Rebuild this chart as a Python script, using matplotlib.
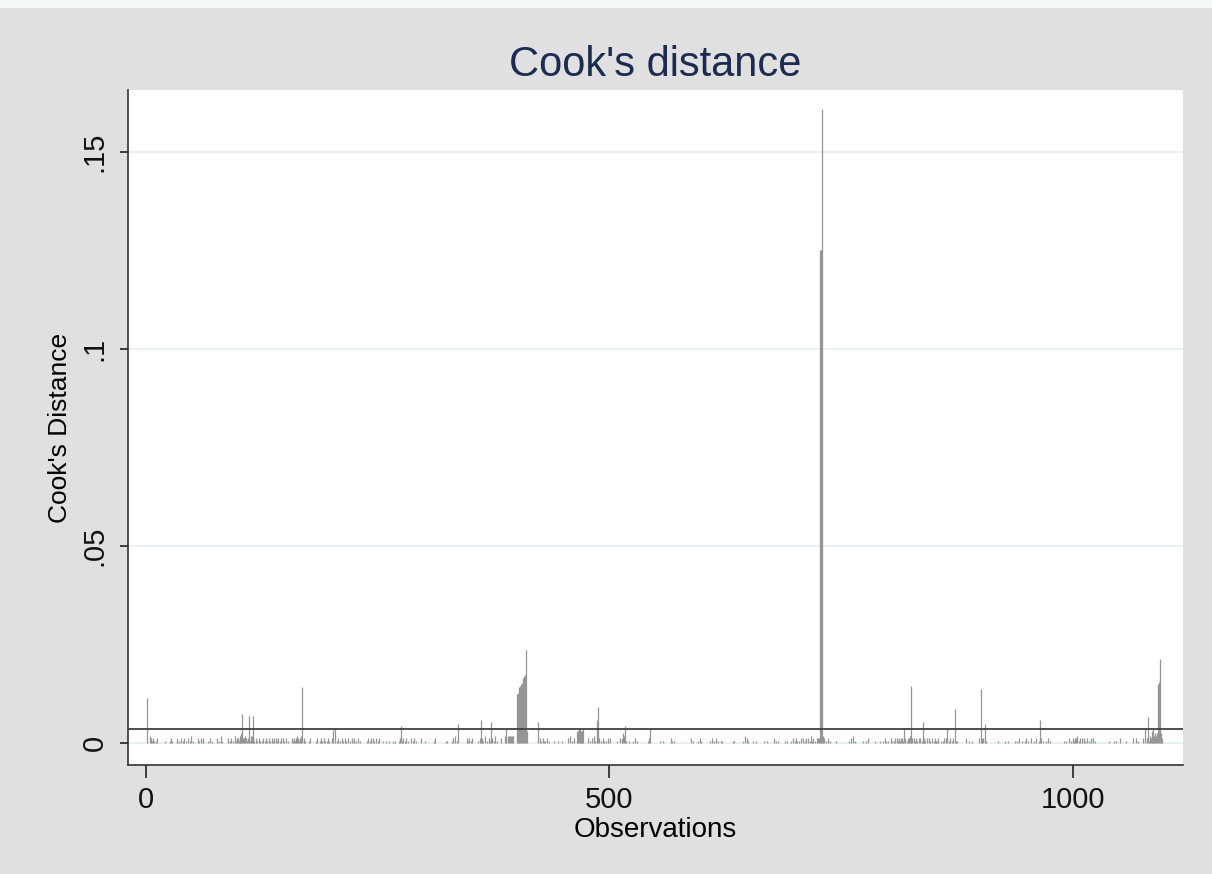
import numpy as np
import matplotlib
matplotlib.use("Agg")
import matplotlib.pyplot as plt
from matplotlib.patches import Rectangle

base_blocks = [
    "0003210210" "1200000000" "1000012100" "0012010201" "2010201030"
    "1000021020" "1200001020" "1000002010" "3100000120" "1201031221",
    "2340223212" "2133121021" "0210120102" "1021021202" "1020120210"
    "2010000212" "1232123301" "2100012000" "0010200121" "0210120100",
    "2102012010" "2010210201" "0201201020" "1000000102" "0120210201"
    "2000010010" "0100001010" "0012212010" "2010020120" "1000002000",
    "1000000000" "1200000000" "0001100001" "2030012000" "0000021020"
    "1200000102" "2121030102" "1220103010" "0020003210" "3333330000",
    "0000000000" "5000000000" "0030210201" "1020100001" "0000100010"
    "0000200301" "0200556655" "5600002010" "2030100120" "1021010210",
    "2000000100" "0202432100" "1000010201" "0000000000" "0122000000"
    "0000100100" "0000020101" "0000000000" "0000000201" "0000010210",
    "0000000010" "2010201001" "0100000000" "0010100000" "0001030201"
    "0000100100" "0000001001" "0000000201" "0100000010" "0100010201",
    "2010102020" "1202010312" "0102220000" "3201020100" "0000100000"
    "0000000010" "2030100000" "0001001020" "0000001000" "0100102010",
    "1002101202" "1021221320" "1223212021" "2102201222" "1020210201"
    "2101200101" "2020010201" "2001100000" "0000200100" "1000000020",
    "0220010000" "0000000010" "0000001001" "0000000101" "0200100102"
    "0100200102" "0001020100" "1020100000" "0000000000" "1010020102",
    "1202301202" "0210201002" "0201000000" "0000000010" "0000101000"
    "2000000100" "0000200201" "0000020302" "0132256343" "430042",
]
base_unit = 0.0006

# the spikes that stand out
spike_obs = [1, 104, 111, 115, 168, 202, 204, 275, 337, 361, 372, 388,
             400, 401, 402, 403, 404, 405, 406, 407, 408, 409, 410,
             423, 487, 488, 517, 544, 727, 728, 729,
             818, 826, 838, 864, 873, 901, 905, 965,
             1078, 1081, 1092, 1093, 1094]
spike_val = [0.0115, 0.0074, 0.0068, 0.0068, 0.0142, 0.0033, 0.0038, 0.0044,
             0.0048, 0.0057, 0.0053, 0.0036,
             0.0125, 0.0127, 0.0127, 0.0142, 0.0145, 0.0150, 0.0152, 0.0165,
             0.0170, 0.0172, 0.0236,
             0.0053, 0.0058, 0.0092, 0.0043, 0.0037, 0.125, 0.125, 0.161,
             0.0038, 0.0145, 0.0053, 0.0038, 0.0086, 0.0137, 0.0048, 0.0058,
             0.0038, 0.0067, 0.0150, 0.0155, 0.0212]

digits = "".join(base_blocks)
cooksd = np.array([int(c) for c in digits], dtype=float) * base_unit
n = len(cooksd)
obs = np.arange(1, n + 1)
for o, v in zip(spike_obs, spike_val):
    cooksd[o - 1] = v
cutoff = 4 / n

plt.rcParams["font.family"] = ["Liberation Sans", "DejaVu Sans"]

fig = plt.figure(figsize=(12.12, 8.74), dpi=100)
fig.patch.set_facecolor("#e0e0e0")
fig.patches.append(Rectangle((0, 0.991), 1, 0.009, transform=fig.transFigure,
                             facecolor="#f4f8f8", edgecolor="none"))
ax = fig.add_axes([0.1056, 0.1247, 0.8705, 0.7723])
ax.set_facecolor("white")

ax.set_yticks([0, 0.05, 0.1, 0.15])
ax.set_yticklabels(["0", ".05", ".1", ".15"], rotation=90, va="center")
ax.set_xticks([0, 500, 1000])
for yv in [0, 0.05, 0.1, 0.15]:
    ax.axhline(yv, color="#e6eff0", lw=1.3, zorder=0)

ax.vlines(obs, 0, cooksd, color="#959595", lw=0.9, zorder=2)
ax.axhline(cutoff, color="#404040", lw=1.3, zorder=3)

ax.set_xlim(-19.4, 1119)
ax.set_ylim(-0.0056, 0.1657)

for s in ["top", "right"]:
    ax.spines[s].set_visible(False)
for s in ["left", "bottom"]:
    ax.spines[s].set_color("#333333")
    ax.spines[s].set_linewidth(1.2)
ax.tick_params(axis="y", direction="out", length=6, width=1.1, pad=8,
               labelsize=21, colors="#111111")
ax.tick_params(axis="x", direction="out", length=9, width=1.1, pad=6,
               labelsize=21, colors="#111111")

ax.set_xlabel("Observations", fontsize=20, labelpad=2)
ax.set_ylabel("Cook's Distance", fontsize=19, labelpad=6)
ax.set_title("Cook's distance", fontsize=30, color="#1c2b52", pad=10)

fig.savefig("out.png", dpi=100, facecolor=fig.get_facecolor())
